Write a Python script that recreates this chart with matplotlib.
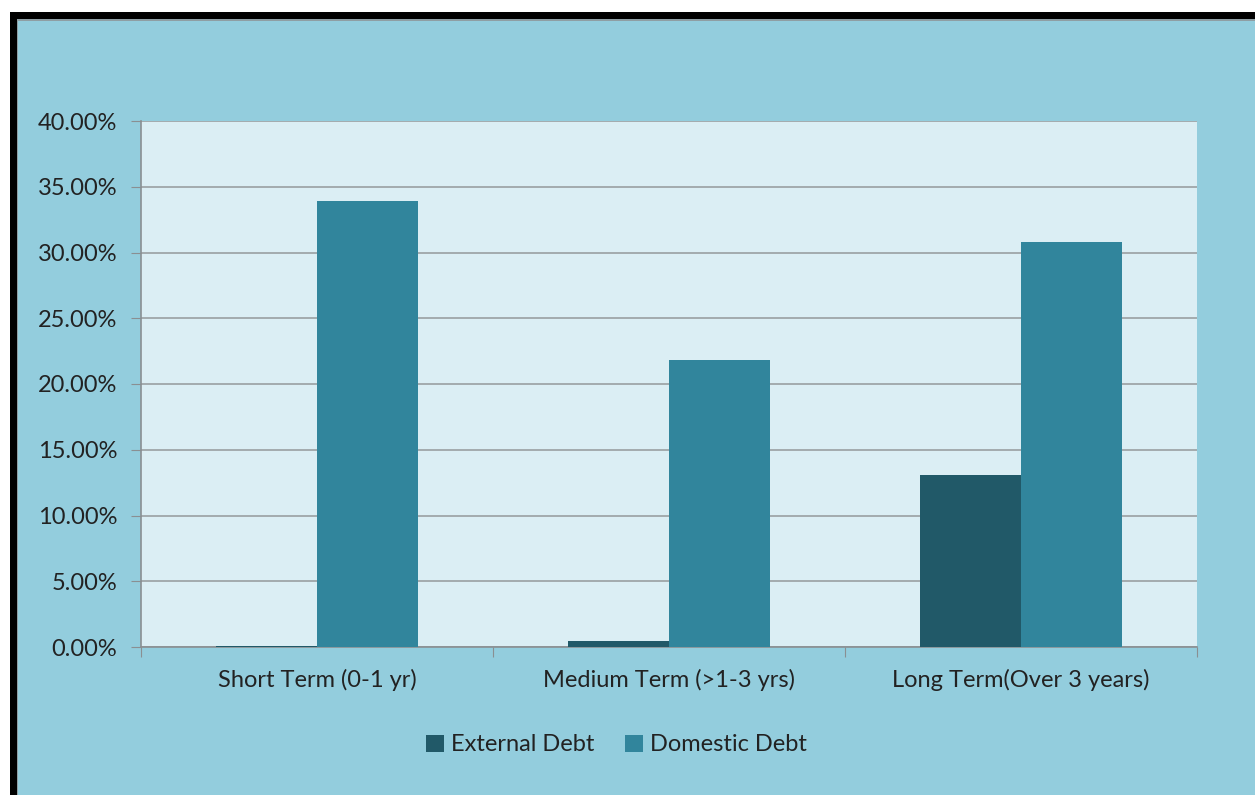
import matplotlib.pyplot as plt
import numpy as np
from matplotlib.patches import Rectangle
from matplotlib.ticker import PercentFormatter

# Data
categories = ['Short Term (0-1 yr)', 'Medium Term (>1-3 yrs)', 'Long Term(Over 3 years)']
external_debt = [0.1, 0.45, 13.05]
domestic_debt = [33.9, 21.8, 30.8]
series_names = ['External Debt', 'Domestic Debt']

plt.rcParams['font.family'] = ['Lato', 'DejaVu Sans']

fig = plt.figure(figsize=(12.55, 7.95), dpi=100, facecolor='white')

# Black frame and light blue chart background (behind the axes)
fig.patches.append(Rectangle((10 / 1255, 0), 1, (795 - 12) / 795,
                             transform=fig.transFigure, facecolor='black',
                             edgecolor='none', zorder=-10))
fig.patches.append(Rectangle((17 / 1255, 0), 1, (795 - 19) / 795,
                             transform=fig.transFigure, facecolor='#8e9ea3',
                             edgecolor='none', zorder=-9))
fig.patches.append(Rectangle((18 / 1255, 0), 1, (795 - 21) / 795,
                             transform=fig.transFigure, facecolor='#93CDDD',
                             edgecolor='none', zorder=-8))

ax = fig.add_axes([141 / 1255, (795 - 647) / 795, 1056 / 1255, 526 / 795])
ax.set_facecolor('#DBEEF4')

x = np.arange(len(categories))
w = 0.287
ax.bar(x - w / 2, external_debt, w, color='#215968', label=series_names[0], zorder=3)
ax.bar(x + w / 2, domestic_debt, w, color='#31859C', label=series_names[1], zorder=3)

ax.set_xlim(-0.5, 2.5)
ax.set_ylim(0, 40)
ax.set_yticks(np.arange(0, 41, 5))
ax.yaxis.set_major_formatter(PercentFormatter(decimals=2))
ax.grid(axis='y', color='#9a9fa2', linewidth=1.2, zorder=1)

# category labels centered, tick marks at boundaries
ax.set_xticks([-0.5, 0.5, 1.5, 2.5])
ax.set_xticklabels([])
ax.set_xticks(x, minor=True)
ax.set_xticklabels(categories, minor=True)
ax.tick_params(axis='x', which='minor', length=0, pad=16, labelsize=17, labelcolor='#222222')
ax.tick_params(axis='x', which='major', length=7, color='#8a8f92')
ax.tick_params(axis='y', length=7, color='#8a8f92', labelsize=17, labelcolor='#222222', pad=10)

for side in ['top', 'right']:
    ax.spines[side].set_visible(False)
for side in ['left', 'bottom']:
    ax.spines[side].set_color('#8a8f92')
    ax.spines[side].set_linewidth(1.2)

fig.legend(loc='center', bbox_to_anchor=(0.491, 0.063), ncol=2, frameon=False,
           fontsize=17, handlelength=0.75, handleheight=0.75, handletextpad=0.3,
           columnspacing=1.3, labelcolor='#222222')

fig.savefig('out.png', dpi=100, facecolor=fig.get_facecolor())
